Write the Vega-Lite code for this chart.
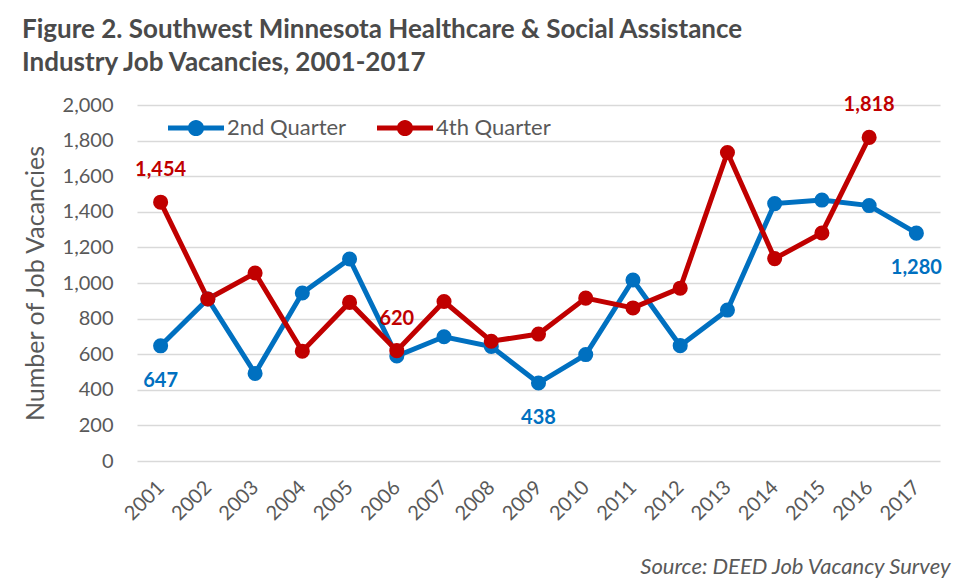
{
  "$schema": "https://vega.github.io/schema/vega-lite/v6.json",
  "width": 803,
  "height": 356,
  "autosize": {"type": "none"},
  "padding": {"left": 137, "top": 105, "right": 18, "bottom": 119},
  "background": "white",
  "title": {
    "text": ["Figure 2. Southwest Minnesota Healthcare & Social Assistance", "Industry Job Vacancies, 2001-2017"],
    "anchor": "start",
    "frame": "group",
    "dx": -115,
    "dy": -19,
    "font": "Lato",
    "fontSize": 26,
    "fontWeight": "bold",
    "color": "#4a4a4a",
    "lineHeight": 33,
    "offset": 0
  },
  "data": {
    "values": [
      {"Year": "2001", "Quarter": "2nd Quarter", "Vacancies": 647},
      {"Year": "2002", "Quarter": "2nd Quarter", "Vacancies": 910},
      {"Year": "2003", "Quarter": "2nd Quarter", "Vacancies": 492},
      {"Year": "2004", "Quarter": "2nd Quarter", "Vacancies": 944},
      {"Year": "2005", "Quarter": "2nd Quarter", "Vacancies": 1135},
      {"Year": "2006", "Quarter": "2nd Quarter", "Vacancies": 590},
      {"Year": "2007", "Quarter": "2nd Quarter", "Vacancies": 698},
      {"Year": "2008", "Quarter": "2nd Quarter", "Vacancies": 643},
      {"Year": "2009", "Quarter": "2nd Quarter", "Vacancies": 438},
      {"Year": "2010", "Quarter": "2nd Quarter", "Vacancies": 598},
      {"Year": "2011", "Quarter": "2nd Quarter", "Vacancies": 1017},
      {"Year": "2012", "Quarter": "2nd Quarter", "Vacancies": 648},
      {"Year": "2013", "Quarter": "2nd Quarter", "Vacancies": 848},
      {"Year": "2014", "Quarter": "2nd Quarter", "Vacancies": 1446},
      {"Year": "2015", "Quarter": "2nd Quarter", "Vacancies": 1466},
      {"Year": "2016", "Quarter": "2nd Quarter", "Vacancies": 1435},
      {"Year": "2017", "Quarter": "2nd Quarter", "Vacancies": 1280},
      {"Year": "2001", "Quarter": "4th Quarter", "Vacancies": 1454},
      {"Year": "2002", "Quarter": "4th Quarter", "Vacancies": 910},
      {"Year": "2003", "Quarter": "4th Quarter", "Vacancies": 1056},
      {"Year": "2004", "Quarter": "4th Quarter", "Vacancies": 617},
      {"Year": "2005", "Quarter": "4th Quarter", "Vacancies": 891},
      {"Year": "2006", "Quarter": "4th Quarter", "Vacancies": 620},
      {"Year": "2007", "Quarter": "4th Quarter", "Vacancies": 896},
      {"Year": "2008", "Quarter": "4th Quarter", "Vacancies": 673},
      {"Year": "2009", "Quarter": "4th Quarter", "Vacancies": 713},
      {"Year": "2010", "Quarter": "4th Quarter", "Vacancies": 915},
      {"Year": "2011", "Quarter": "4th Quarter", "Vacancies": 860},
      {"Year": "2012", "Quarter": "4th Quarter", "Vacancies": 971},
      {"Year": "2013", "Quarter": "4th Quarter", "Vacancies": 1733},
      {"Year": "2014", "Quarter": "4th Quarter", "Vacancies": 1137},
      {"Year": "2015", "Quarter": "4th Quarter", "Vacancies": 1281},
      {"Year": "2016", "Quarter": "4th Quarter", "Vacancies": 1818}
    ]
  },
  "encoding": {
    "x": {
      "field": "Year",
      "type": "ordinal",
      "scale": {"type": "point", "padding": 0.5},
      "axis": {
        "title": "Source: DEED Job Vacancy Survey",
        "titleFont": "Lato",
        "titleFontSize": 22,
        "titleFontStyle": "italic",
        "titleFontWeight": "normal",
        "titleColor": "#595959",
        "titleAnchor": "end",
        "titleAlign": "right",
        "titleBaseline": "alphabetic",
        "titleX": 813,
        "titleY": 112,
        "labelAngle": -45,
        "labelAlign": "right",
        "labelBaseline": "middle",
        "labelFont": "Lato",
        "labelFontSize": 20,
        "labelColor": "#595959",
        "labelPadding": 23,
        "domain": false,
        "ticks": false,
        "grid": false
      }
    },
    "y": {
      "field": "Vacancies",
      "type": "quantitative",
      "scale": {"domain": [0, 2000], "nice": false},
      "axis": {
        "title": "Number of Job Vacancies",
        "titleFont": "Lato",
        "titleFontSize": 25,
        "titleFontWeight": "normal",
        "titleColor": "#595959",
        "titlePadding": 14,
        "values": [0, 200, 400, 600, 800, 1000, 1200, 1400, 1600, 1800, 2000],
        "format": ",d",
        "labelFont": "Lato",
        "labelFontSize": 20,
        "labelColor": "#595959",
        "labelPadding": 24,
        "domain": false,
        "ticks": false,
        "grid": true,
        "gridColor": "#d9d9d9",
        "gridWidth": 1.5
      }
    },
    "color": {
      "field": "Quarter",
      "type": "nominal",
      "scale": {"domain": ["2nd Quarter", "4th Quarter"], "range": ["#0070C0", "#C00000"]},
      "legend": {
        "orient": "none",
        "legendX": 31,
        "legendY": -5,
        "direction": "horizontal",
        "title": null,
        "padding": 0,
        "symbolType": "M-1,-0.09L1,-0.09L1,0.09L-1,0.09Z M0.29,0A0.29,0.29 0 1,1 -0.29,0A0.29,0.29 0 1,1 0.29,0Z",
        "symbolSize": 3136,
        "symbolStrokeWidth": 0,
        "labelFont": "Lato",
        "labelFontSize": 22,
        "labelColor": "#595959",
        "labelOffset": 3,
        "columnPadding": 30,
        "encode": {
          "symbols": {"update": {"fill": {"scale": "color", "field": "value"}, "strokeWidth": {"value": 0}, "opacity": {"value": 1}}}
        }
      }
    }
  },
  "layer": [
    {
      "mark": {"type": "line", "strokeWidth": 5, "point": {"filled": true, "size": 227, "opacity": 1}}
    },
    {
      "transform": [{"filter": "datum.Quarter == '4th Quarter' && (datum.Year == '2001' || datum.Year == '2006' || datum.Year == '2016')"}],
      "mark": {"type": "text", "dy": -32, "font": "Lato", "fontSize": 20, "fontWeight": "bold", "baseline": "middle", "align": "center"},
      "encoding": {"text": {"field": "Vacancies", "type": "quantitative", "format": ",d"}}
    },
    {
      "transform": [{"filter": "datum.Quarter == '2nd Quarter' && (datum.Year == '2001' || datum.Year == '2009' || datum.Year == '2017')"}],
      "mark": {"type": "text", "dy": 35, "font": "Lato", "fontSize": 20, "fontWeight": "bold", "baseline": "middle", "align": "center"},
      "encoding": {"text": {"field": "Vacancies", "type": "quantitative", "format": ",d"}}
    }
  ],
  "config": {
    "view": {"stroke": null}
  }
}
